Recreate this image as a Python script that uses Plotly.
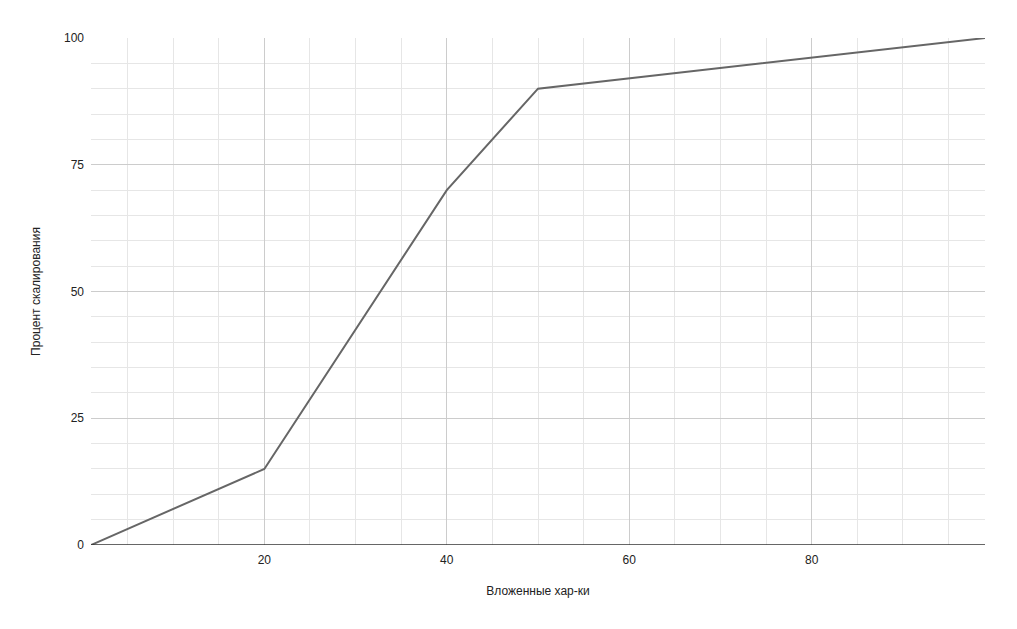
import plotly.graph_objects as go

x_vals = [1, 20, 40, 50, 99]
y_vals = [0, 15, 70, 90, 100]
x_title = "Вложенные хар-ки"
y_title = "Процент скалирования"

fig = go.Figure()
fig.add_trace(go.Scatter(x=x_vals, y=y_vals, mode="lines",
                         line=dict(color="#666666", width=2), hoverinfo="skip"))

fig.update_layout(
    width=1017, height=629,
    margin=dict(l=83, r=40, t=30, b=92),
    paper_bgcolor="white", plot_bgcolor="white",
    font=dict(family="Liberation Sans, Arial, sans-serif", size=12, color="#222222"),
    showlegend=False,
    xaxis=dict(range=[1, 99], tickvals=[20, 40, 60, 80], showgrid=True,
               gridcolor="#cccccc", gridwidth=1, zeroline=False,
               minor=dict(dtick=5, tick0=0, showgrid=True, gridcolor="#e6e6e6", gridwidth=1),
               showline=False, ticks="", ticklabelstandoff=6,
               title=dict(text=x_title, font=dict(size=12, color="#222222"), standoff=20)),
    yaxis=dict(range=[0, 100], tickvals=[0, 25, 50, 75, 100], showgrid=True,
               gridcolor="#cccccc", gridwidth=1, zeroline=False,
               minor=dict(dtick=5, tick0=0, showgrid=True, gridcolor="#e6e6e6", gridwidth=1),
               showline=False, ticks="", ticklabelstandoff=6,
               title=dict(text=y_title, font=dict(size=12, color="#222222"), standoff=20)),
)
fig.add_shape(type="line", xref="paper", yref="y", x0=0, x1=1, y0=0, y1=0,
              line=dict(color="#333333", width=1.5))

fig.write_html("out.html")
